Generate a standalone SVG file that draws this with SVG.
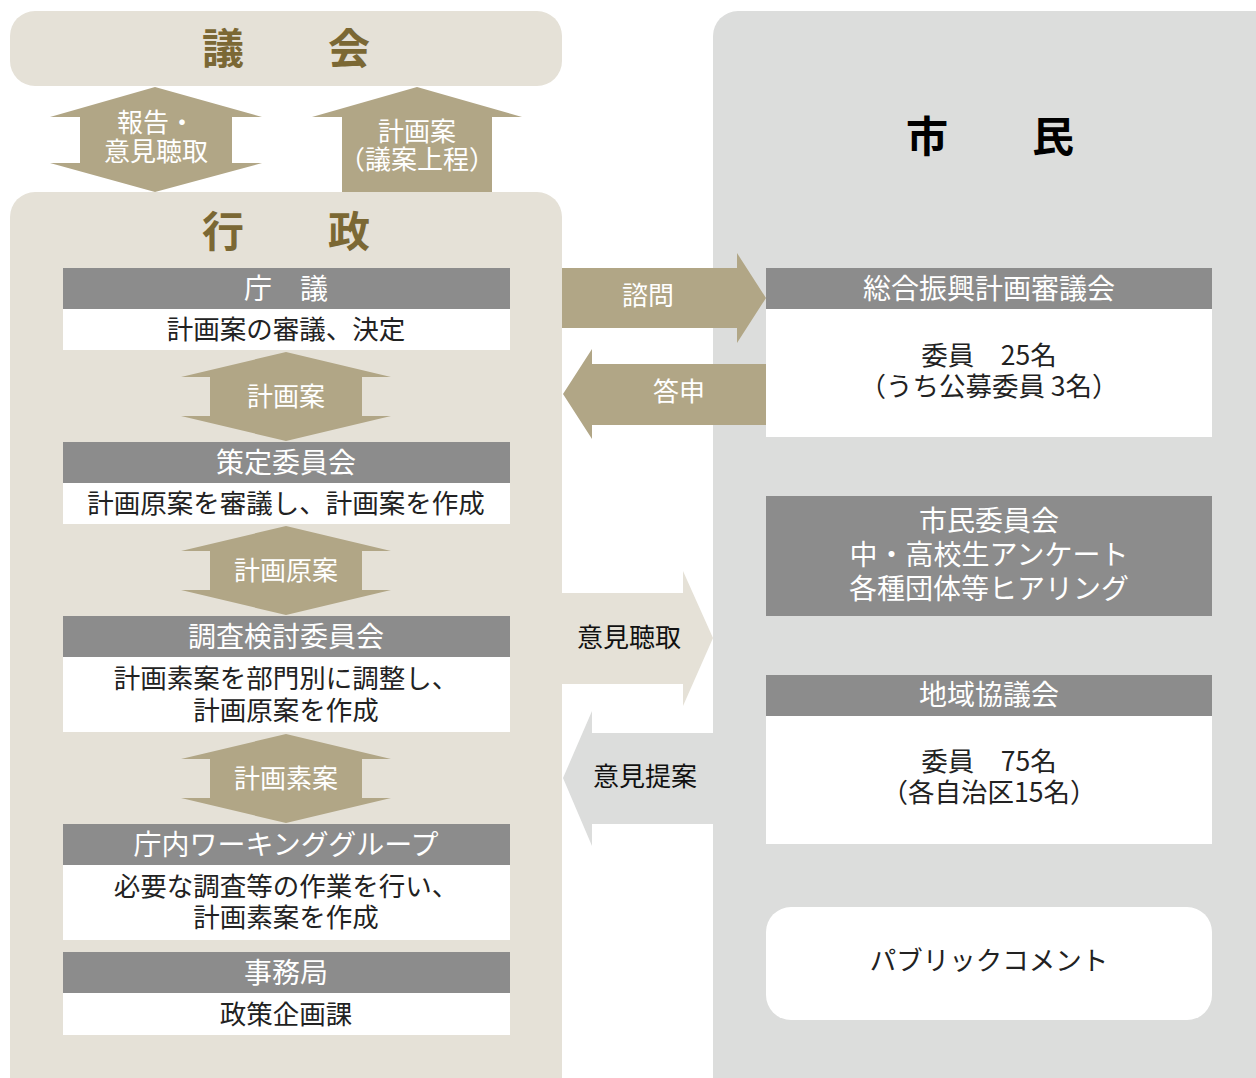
<svg xmlns="http://www.w3.org/2000/svg" width="1256" height="1078" viewBox="0 0 1256 1078">
<style>
text{font-family:"Noto Sans CJK JP","Noto Sans",sans-serif;dominant-baseline:central;text-anchor:middle}
.title{font-size:42px;font-weight:700;fill:#7b6834}
.title2{font-size:42px;font-weight:700;fill:#000}
.hd{fill:#8c8c8c}
.bd{fill:#fff}
.ht{font-size:28px;fill:#fff}
.bt{font-size:26.5px;fill:#222}
.arr{fill:#b1a686}
.at{font-size:26px;fill:#fff}
.dt{font-size:26px;fill:#111}
</style>
<rect width="1256" height="1078" fill="#fff"/>
<g id="gikai">
<rect x="10" y="11" width="552" height="75" rx="25" fill="#e5e1d7"/>
<text class="title" x="286" y="45">議　　会</text>
</g>
<g id="gyosei-panel">
<rect x="10" y="192" width="552" height="920" rx="25" fill="#e5e1d7"/>
<text class="title" x="286" y="228">行　　政</text>
</g>
<g id="shimin-panel">
<rect x="713" y="11" width="580" height="1100" rx="25" fill="#dcdddc"/>
<text class="title2" x="990" y="133">市　　民</text>
</g>
<g id="connectors">
<polygon class="arr" points="155,87 262,117 232,117 232,163 262,163 155,192 50,163 80,163 80,117 50,117"/>
<text class="at" x="156" y="120">報告・</text>
<text class="at" x="156" y="149">意見聴取</text>
<polygon class="arr" points="417,87 522,117 492,117 492,192 342,192 342,117 312,117"/>
<text class="at" x="417" y="129">計画案</text>
<text class="at" x="417" y="157">（議案上程）</text>
<polygon class="arr" points="286,352 391,377 362,377 362,416 391,416 286,441 181,416 210,416 210,377 181,377"/>
<text class="at" x="286" y="394">計画案</text>
<polygon class="arr" points="286,526 391,551 362,551 362,590 391,590 286,615 181,590 210,590 210,551 181,551"/>
<text class="at" x="286" y="568">計画原案</text>
<polygon class="arr" points="286,734 391,759 362,759 362,798 391,798 286,823 181,798 210,798 210,759 181,759"/>
<text class="at" x="286" y="776">計画素案</text>
<polygon class="arr" points="562,268 737,268 737,253 766,298 737,343 737,328 562,328"/>
<text class="at" x="648" y="293">諮問</text>
<polygon class="arr" points="766,364 592,364 592,349 563,394 592,439 592,425 766,425"/>
<text class="at" x="679" y="389">答申</text>
<polygon fill="#e5e1d7" points="562,593 683,593 683,571 713,638 683,706 683,684 562,684"/>
<text class="dt" x="629" y="635">意見聴取</text>
<polygon fill="#dcdddc" points="713,733 592,733 592,711 563,778 592,846 592,824 713,824"/>
<text class="dt" x="645" y="774">意見提案</text>
</g>
<g id="chogi">
<rect class="hd" x="63" y="268" width="447" height="41"/>
<rect class="bd" x="63" y="309" width="447" height="41"/>
<text class="ht" x="286" y="287">庁　議</text>
<text class="bt" x="286" y="327">計画案の審議、決定</text>
</g>
<g id="sakutei">
<rect class="hd" x="63" y="442" width="447" height="41"/>
<rect class="bd" x="63" y="483" width="447" height="41"/>
<text class="ht" x="286" y="461">策定委員会</text>
<text class="bt" x="286" y="501">計画原案を審議し、計画案を作成</text>
</g>
<g id="chosa">
<rect class="hd" x="63" y="616" width="447" height="41"/>
<rect class="bd" x="63" y="657" width="447" height="75"/>
<text class="ht" x="286" y="635">調査検討委員会</text>
<text class="bt" x="286" y="676">計画素案を部門別に調整し、</text>
<text class="bt" x="286" y="708">計画原案を作成</text>
</g>
<g id="working">
<rect class="hd" x="63" y="824" width="447" height="41"/>
<rect class="bd" x="63" y="865" width="447" height="75"/>
<text class="ht" x="286" y="843">庁内ワーキンググループ</text>
<text class="bt" x="286" y="884">必要な調査等の作業を行い、</text>
<text class="bt" x="286" y="915">計画素案を作成</text>
</g>
<g id="jimukyoku">
<rect class="hd" x="63" y="952" width="447" height="41"/>
<rect class="bd" x="63" y="993" width="447" height="42"/>
<text class="ht" x="286" y="971">事務局</text>
<text class="bt" x="286" y="1012">政策企画課</text>
</g>
<g id="shingikai">
<rect class="hd" x="766" y="268" width="446" height="41"/>
<rect class="bd" x="766" y="309" width="446" height="128"/>
<text class="ht" x="989" y="287">総合振興計画審議会</text>
<text class="bt" x="989" y="353">委員　25名</text>
<text class="bt" x="989" y="384">（うち公募委員 3名）</text>
</g>
<g id="shimin-iinkai">
<rect class="hd" x="766" y="496" width="446" height="120"/>
<text class="ht" x="989" y="519">市民委員会</text>
<text class="ht" x="989" y="553">中・高校生アンケート</text>
<text class="ht" x="989" y="587">各種団体等ヒアリング</text>
</g>
<g id="chiiki">
<rect class="hd" x="766" y="675" width="446" height="41"/>
<rect class="bd" x="766" y="716" width="446" height="128"/>
<text class="ht" x="989" y="693">地域協議会</text>
<text class="bt" x="989" y="759">委員　75名</text>
<text class="bt" x="989" y="790">（各自治区15名）</text>
</g>
<g id="public-comment">
<rect class="bd" x="766" y="907" width="446" height="113" rx="25"/>
<text class="bt" x="989" y="958">パブリックコメント</text>
</g>
</svg>
